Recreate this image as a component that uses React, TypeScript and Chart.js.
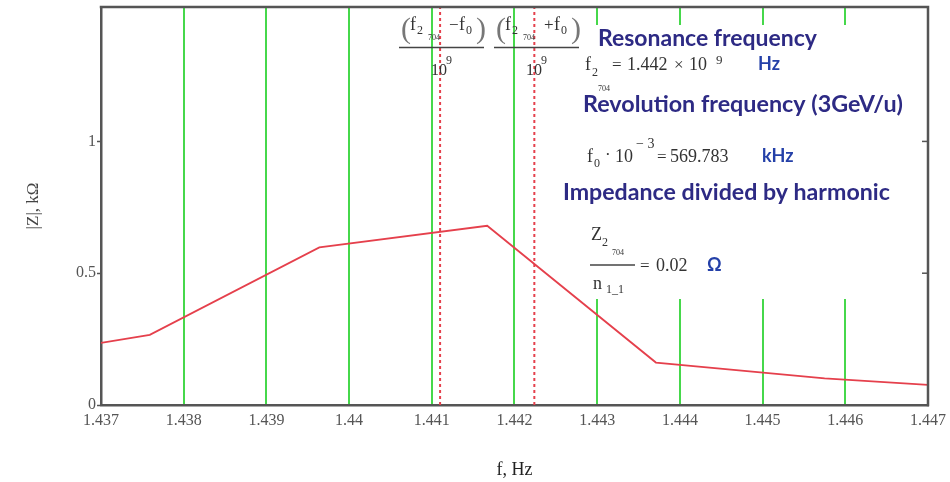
import React, { useEffect, useRef } from "react";
import { Chart, registerables } from "chart.js";

Chart.register(...registerables);

// ---- data ----
const xTickValues = [1.437, 1.438, 1.439, 1.44, 1.441, 1.442, 1.443, 1.444, 1.445, 1.446, 1.447];
const xTickLabels = ["1.437", "1.438", "1.439", "1.44", "1.441", "1.442", "1.443", "1.444", "1.445", "1.446", "1.447"];
const yTickValues = [0, 0.5, 1];
const yTickLabels = ["0", "0.5", "1"];
const freqGHz = [1.437, 1.43759, 1.43964, 1.44167, 1.44371, 1.44575, 1.447];
const impedanceKOhm = [0.236, 0.266, 0.598, 0.68, 0.161, 0.101, 0.076];
const resonanceGHz = 1.44167;
const revolutionGHz = 0.000569783;
const xMin = 1.437;
const xMax = 1.447;
const yMin = 0;
const yMax = 1.51;

const SERIF = '"Liberation Serif", "Times New Roman", serif';
const SANS = 'Lato, "Open Sans", sans-serif';
const AXIS = "#555555";
const GREEN = "#46d84b";
const RED = "#e5404c";
const NAVY = "#2d2a84";
const UNIT = "#2440a8";
const MATH = "#333333";

function txt(ctx: CanvasRenderingContext2D, s: string, x: number, y: number, font: string, color: string) {
  ctx.font = font;
  ctx.fillStyle = color;
  ctx.textAlign = "left";
  ctx.textBaseline = "alphabetic";
  ctx.fillText(s, x, y);
}

function fitText(ctx: CanvasRenderingContext2D, s: string, x: number, y: number, width: number, color: string) {
  ctx.font = `bold 100px ${SANS}`;
  const w = ctx.measureText(s).width;
  const size = (width / w) * 100;
  txt(ctx, s, x, y, `bold ${size.toFixed(2)}px ${SANS}`, color);
}

function hline(ctx: CanvasRenderingContext2D, x1: number, x2: number, y: number, w: number, c: string) {
  ctx.beginPath();
  ctx.strokeStyle = c;
  ctx.lineWidth = w;
  ctx.setLineDash([]);
  ctx.moveTo(x1, y);
  ctx.lineTo(x2, y);
  ctx.stroke();
}

function drawFraction(ctx: CanvasRenderingContext2D, dx: number, op: string) {
  const m = (s: number) => `${s}px ${SERIF}`;
  txt(ctx, "(", 401 + dx, 38, `30px ${SERIF}`, "#777");
  txt(ctx, "f", 410 + dx, 30, m(18), MATH);
  txt(ctx, "2", 417 + dx, 34, m(12), MATH);
  txt(ctx, "704", 428 + dx, 40, m(8), MATH);
  txt(ctx, op, 449 + dx, 30, m(17), MATH);
  txt(ctx, "f", 459 + dx, 30, m(18), MATH);
  txt(ctx, "0", 466 + dx, 34, m(12), MATH);
  txt(ctx, ")", 476 + dx, 38, `30px ${SERIF}`, "#777");
  hline(ctx, 399 + dx, 484 + dx, 47.5, 1.5, "#444");
  txt(ctx, "10", 431 + dx, 75, m(16), MATH);
  txt(ctx, "9", 446 + dx, 64, m(12), MATH);
}

const overlayPlugin = {
  id: "overlay",
  afterDraw(chart: any) {
    const ctx: CanvasRenderingContext2D = chart.ctx;
    const { left, right, top, bottom } = chart.chartArea;
    const yScale = chart.scales.y;
    ctx.save();
    // white text panel
    ctx.fillStyle = "#ffffff";
    ctx.fillRect(584, 25, 336, 274);

    // frame top/right
    ctx.beginPath();
    ctx.strokeStyle = AXIS;
    ctx.lineWidth = 2.5;
    ctx.setLineDash([]);
    ctx.moveTo(left - 1.25, top);
    ctx.lineTo(right, top);
    ctx.lineTo(right, bottom + 1.25);
    ctx.stroke();
    ctx.lineWidth = 1.5;
    yTickValues.forEach((v) => {
      if (v === yMin) return;
      const py = yScale.getPixelForValue(v);
      ctx.beginPath();
      ctx.moveTo(right - 6, py);
      ctx.lineTo(right, py);
      ctx.stroke();
    });

    // fractions at the top markers
    drawFraction(ctx, 0, "\u2212");
    drawFraction(ctx, 95, "+");

    const m = (s: number) => `${s}px ${SERIF}`;
    const u = `bold 18px ${SANS}`;
    // Resonance frequency
    fitText(ctx, "Resonance frequency", 598, 46, 219, NAVY);
    txt(ctx, "f", 585, 70, m(18), MATH);
    txt(ctx, "2", 592, 76, m(12), MATH);
    txt(ctx, "704", 598, 91, m(8), MATH);
    txt(ctx, "=", 612, 70, m(17), MATH);
    txt(ctx, "1.442", 627, 70, m(18), MATH);
    txt(ctx, "\u00d7", 674, 70, m(17), MATH);
    txt(ctx, "10", 689, 70, m(18), MATH);
    txt(ctx, "9", 716, 64, m(13), MATH);
    txt(ctx, "Hz", 758, 70, u, UNIT);

    // Revolution frequency
    fitText(ctx, "Revolution frequency (3GeV/u)", 583, 112, 320, NAVY);
    txt(ctx, "f", 587, 162, m(18), MATH);
    txt(ctx, "0", 594, 167, m(12), MATH);
    txt(ctx, "\u00b7", 605, 160, m(17), MATH);
    txt(ctx, "10", 615, 162, m(18), MATH);
    txt(ctx, "\u2212 3", 636, 148, m(14), MATH);
    txt(ctx, "=", 657, 162, m(17), MATH);
    txt(ctx, "569.783", 670, 162, m(18), MATH);
    txt(ctx, "kHz", 762, 162, u, UNIT);

    // Impedance divided by harmonic
    fitText(ctx, "Impedance divided by harmonic", 563, 200, 327, NAVY);
    txt(ctx, "Z", 591, 240, m(18), MATH);
    txt(ctx, "2", 602, 246, m(12), MATH);
    txt(ctx, "704", 612, 255, m(8), MATH);
    hline(ctx, 590, 635, 265, 1.5, "#444");
    txt(ctx, "n", 593, 289, m(18), MATH);
    txt(ctx, "1_1", 606, 293, m(12), MATH);
    txt(ctx, "=", 640, 271, m(17), MATH);
    txt(ctx, "0.02", 656, 271, m(18), MATH);
    txt(ctx, "\u03a9", 707, 271, u, UNIT);

    ctx.restore();
  },
};

export default function App() {
  const ref = useRef<HTMLCanvasElement | null>(null);

  useEffect(() => {
    document.body.style.margin = "0";
    const canvas = ref.current;
    if (!canvas) return;

    const lineData = freqGHz.map((x, i) => ({ x, y: impedanceKOhm[i] }));
    const lowX = resonanceGHz - revolutionGHz;
    const highX = resonanceGHz + revolutionGHz;

    const chart = new Chart(canvas, {
      type: "scatter",
      data: {
        datasets: [
          {
            label: "|Z|",
            data: lineData,
            showLine: true,
            borderColor: RED,
            borderWidth: 1.8,
            pointRadius: 0,
            tension: 0,
          },
          {
            label: "f - f0",
            data: [
              { x: lowX, y: yMin },
              { x: lowX, y: yMax },
            ],
            showLine: true,
            borderColor: RED,
            borderWidth: 2,
            borderDash: [3, 3],
            pointRadius: 0,
          },
          {
            label: "f + f0",
            data: [
              { x: highX, y: yMin },
              { x: highX, y: yMax },
            ],
            showLine: true,
            borderColor: RED,
            borderWidth: 2,
            borderDash: [3, 3],
            pointRadius: 0,
          },
        ],
      },
      options: {
        responsive: false,
        animation: false,
        events: [],
        layout: { padding: { top: 7, right: 22, left: 0, bottom: 0 } },
        plugins: { legend: { display: false }, tooltip: { enabled: false } },
        scales: {
          x: {
            type: "linear",
            min: xMin,
            max: xMax,
            afterBuildTicks: (scale: any) => {
              scale.ticks = xTickValues.map((v) => ({ value: v }));
            },
            afterFit: (scale: any) => {
              scale.height = 77;
              scale.paddingLeft = 0;
              scale.paddingRight = 0;
            },
            ticks: {
              autoSkip: false,
              maxRotation: 0,
              padding: 6,
              color: "#555",
              font: { family: SERIF, size: 16 },
              callback: (_v: any, i: number) => xTickLabels[i],
            },
            grid: {
              drawTicks: false,
              lineWidth: 2,
              color: (c: any) => {
                const v = c.tick ? c.tick.value : null;
                return v !== null && v > xMin + 1e-9 && v < xMax - 1e-9 ? GREEN : "rgba(0,0,0,0)";
              },
            },
            border: { color: AXIS, width: 2.5 },
            title: {
              display: true,
              text: "f, Hz",
              color: "#222",
              font: { family: SERIF, size: 18 },
              padding: { top: 0, bottom: 1 },
            },
          },
          y: {
            type: "linear",
            min: yMin,
            max: yMax,
            afterBuildTicks: (scale: any) => {
              scale.ticks = yTickValues.map((v) => ({ value: v }));
            },
            afterFit: (scale: any) => {
              scale.width = 101;
              scale.paddingTop = 0;
              scale.paddingBottom = 0;
            },
            ticks: {
              padding: 1,
              color: "#555",
              font: { family: SERIF, size: 16 },
              callback: (_v: any, i: number) => yTickLabels[i],
            },
            grid: {
              drawOnChartArea: false,
              drawTicks: true,
              tickLength: 4,
              tickColor: AXIS,
              tickWidth: 1.5,
            },
            border: { color: AXIS, width: 2.5 },
            title: {
              display: true,
              text: "|Z|, k\u03a9",
              color: "#444",
              font: { family: SERIF, size: 17 },
              padding: { top: 23, bottom: 0 },
            },
          },
        },
      },
      plugins: [overlayPlugin],
    } as any);

    return () => chart.destroy();
  }, []);

  return (
    <div style={{ width: 950, height: 482 }}>
      <canvas ref={ref} width={950} height={482} style={{ display: "block" }} />
    </div>
  );
}
